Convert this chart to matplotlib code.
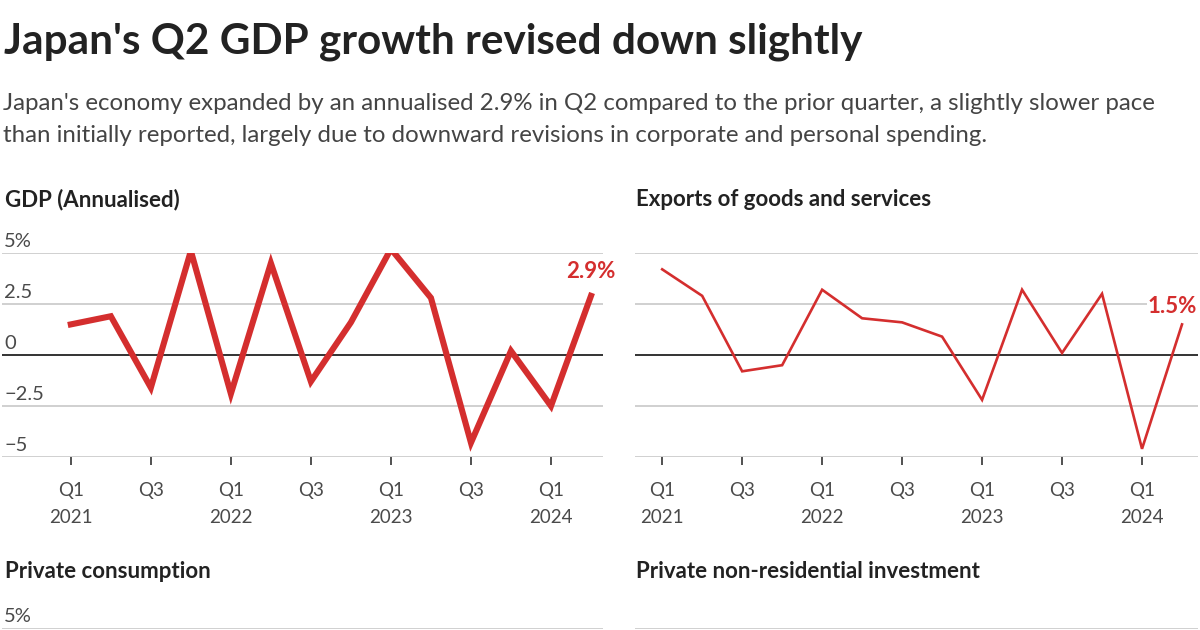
import matplotlib
matplotlib.use("Agg")
import matplotlib.pyplot as plt
import numpy as np

# quarterly figures, Q1 2021 .. Q2 2024 (annualised % change)
quarters = ["Q1 2021", "Q2 2021", "Q3 2021", "Q4 2021",
            "Q1 2022", "Q2 2022", "Q3 2022", "Q4 2022",
            "Q1 2023", "Q2 2023", "Q3 2023", "Q4 2023",
            "Q1 2024", "Q2 2024"]
gdp = [1.5, 1.9, -1.6, 5.1, -1.9, 4.5, -1.3, 1.6, 5.2, 2.8, -4.3, 0.2, -2.5, 2.9]
exports = [4.2, 2.9, -0.8, -0.5, 3.2, 1.8, 1.6, 0.9, -2.2, 3.2, 0.1, 3.0, -4.6, 1.5]

tick_pos = [0, 2, 4, 6, 8, 10, 12]
tick_labels = ["Q1\n2021", "Q3", "Q1\n2022", "Q3", "Q1\n2023", "Q3", "Q1\n2024"]
y_grid = [-5, -2.5, 2.5, 5]
y_labels = ["\u22125", "\u22122.5", "2.5", "5%"]

RED = "#d42e2e"
DARK = "#222222"
GREY = "#4a4a4a"
FONT = "Lato"

W, H = 1200, 630
fig = plt.figure(figsize=(W / 100, H / 100), dpi=100)
fig.patch.set_facecolor("white")


def px_axes(x0, y0, x1, y1):
    # pixel box (top-left origin) -> figure axes
    return fig.add_axes([x0 / W, 1 - y1 / H, (x1 - x0) / W, (y1 - y0) / H])


def ptext(x, y, s, **kw):
    fig.text(x / W, 1 - y / H, s, family=FONT, **kw)


def ylab(ax, v, lab):
    ax.annotate(lab, (0, v), xycoords=("axes fraction", "data"),
                xytext=(1.5, 2), textcoords="offset points",
                ha="left", va="bottom", family=FONT,
                fontsize=14.5, color=GREY)


def style_panel(ax, left=True, xticks=True, labels=True):
    ax.set_ylim(-5, 5)
    ax.set_xlim(-1.72, 13.3) if left else ax.set_xlim(-0.68, 13.4)
    for s in ax.spines.values():
        s.set_visible(False)
    ax.set_yticks([])
    for v in y_grid:
        ax.axhline(v, color="#c8c8c8", lw=1.2, zorder=1)
    ax.axhline(0, color="#111111", lw=1.2, zorder=2)
    if left and labels:
        for v, lab in zip(y_grid, y_labels):
            ylab(ax, v, lab)
        ylab(ax, 0, "0")
    elif left:
        ylab(ax, y_grid[-1], y_labels[-1])
    if xticks:
        ax.set_xticks(tick_pos)
        ax.set_xticklabels(tick_labels, family=FONT,
                           fontsize=13.5, color=GREY, linespacing=1.7)
        ax.tick_params(axis="x", length=6, width=1.2, color="#333333", pad=12)
    else:
        ax.set_xticks([])


x = np.arange(len(quarters))

# GDP panel
ax1 = px_axes(2, 253, 603, 457)
style_panel(ax1)
ax1.plot(x, gdp, color=RED, lw=4.4, solid_joinstyle="miter", zorder=3)
ax1.annotate(f"{gdp[-1]:.1f}%", (x[-1], gdp[-1]), xytext=(0, 10),
             textcoords="offset points", ha="center", va="bottom",
             family=FONT, fontweight="bold", fontsize=16, color=RED)

# Exports panel
ax2 = px_axes(635, 253, 1198, 457)
style_panel(ax2, left=False)
ax2.plot(x, exports, color=RED, lw=1.9, solid_joinstyle="miter", zorder=3)
ax2.annotate(f"{exports[-1]:.1f}%", (x[-1], exports[-1]), xytext=(11, 5),
             textcoords="offset points", ha="right", va="bottom",
             family=FONT, fontweight="bold", fontsize=16, color=RED,
             bbox=dict(boxstyle="square,pad=0.05", fc="white", ec="none"),
             zorder=4)

# next row of panels, cut off by the bottom edge
ax3 = px_axes(2, 628, 603, 832)
style_panel(ax3, xticks=False, labels=False)
ax4 = px_axes(635, 628, 1198, 832)
style_panel(ax4, left=False, xticks=False)

# headings
ptext(4, 42, "Japan's Q2 GDP growth revised down slightly", fontsize=30.4,
      fontweight="bold", color=DARK, va="center")
ptext(3, 103, "Japan's economy expanded by an annualised 2.9% in Q2 compared to the prior quarter, a slightly slower pace",
      fontsize=17.3, color="#444444", va="center")
ptext(3, 135, "than initially reported, largely due to downward revisions in corporate and personal spending.",
      fontsize=17.3, color="#444444", va="center")
ptext(5, 200, "GDP (Annualised)", fontsize=16, fontweight="bold", color=DARK, va="center")
ptext(636, 200, "Exports of goods and services", fontsize=16, fontweight="bold", color=DARK, va="center")
ptext(5, 572, "Private consumption", fontsize=16, fontweight="bold", color=DARK, va="center")
ptext(636, 572, "Private non-residential investment", fontsize=16, fontweight="bold", color=DARK, va="center")

fig.savefig("out.png", dpi=100, facecolor="white")
